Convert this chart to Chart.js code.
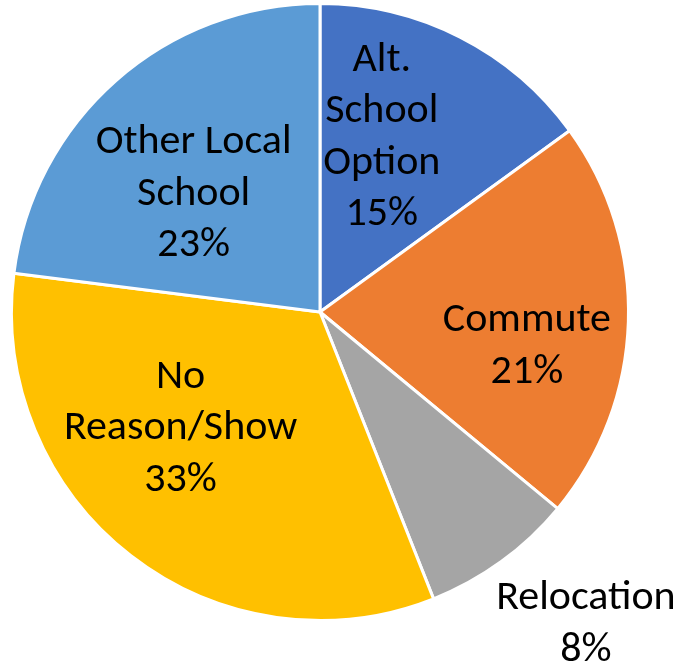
<!DOCTYPE html>
<html>
<head>
<meta charset="utf-8">
<script src="https://cdn.jsdelivr.net/npm/chart.js@4"></script>
<style>
  html, body { margin: 0; padding: 0; background: #fff; }
  #wrap { width: 685px; height: 671px; }
</style>
</head>
<body>
<div id="wrap"><canvas id="pie" width="685" height="671"></canvas></div>
<script>
// slices, clockwise from 12 o'clock
const reasons = [
  ['Alt.', 'School', 'Option'],
  ['Commute'],
  ['Relocation'],
  ['No', 'Reason/Show'],
  ['Other Local', 'School']
];
const shares = [15, 21, 8, 33, 23];
const sliceColors = ['#4472C4', '#ED7D31', '#A5A5A5', '#FFC000', '#5B9BD5'];

// where each label block sits: angle (deg, clockwise from top) and distance as a fraction of the radius
const labelSpots = [
  { a: 19.5, r: 0.60 },
  { a: 99.5, r: 0.68 },
  { a: 139.6, r: 1.33 },
  { a: 230, r: 0.59 },
  { a: 313, r: 0.56 }
];

const FONT = '42px Carlito, Lato, "Liberation Sans", sans-serif';
const LINE_H = 51.5;

const sliceLabels = {
  id: 'sliceLabels',
  afterDatasetsDraw(chart) {
    const ctx = chart.ctx;
    const arcs = chart.getDatasetMeta(0).data;
    ctx.save();
    ctx.font = FONT;
    ctx.fillStyle = '#000';
    ctx.textAlign = 'center';
    ctx.textBaseline = 'middle';
    arcs.forEach((arc, i) => {
      const spot = labelSpots[i];
      const ang = spot.a * Math.PI / 180;
      const cx = arc.x + Math.sin(ang) * arc.outerRadius * spot.r;
      const cy = arc.y - Math.cos(ang) * arc.outerRadius * spot.r;
      const lines = [...reasons[i], shares[i] + '%'];
      const top = cy - (lines.length - 1) * LINE_H / 2;
      lines.forEach((ln, k) => ctx.fillText(ln, cx, top + k * LINE_H));
    });
    ctx.restore();
  }
};

new Chart(document.getElementById('pie').getContext('2d'), {
  type: 'pie',
  data: {
    labels: reasons.map(r => r.join(' ')),
    datasets: [{
      data: shares,
      backgroundColor: sliceColors,
      borderColor: '#fff',
      borderWidth: 3
    }]
  },
  options: {
    responsive: false,
    animation: false,
    layout: { padding: { left: 10, right: 55, top: 2, bottom: 49 } },
    plugins: {
      legend: { display: false },
      tooltip: { enabled: false }
    }
  },
  plugins: [sliceLabels]
});
</script>
</body>
</html>
